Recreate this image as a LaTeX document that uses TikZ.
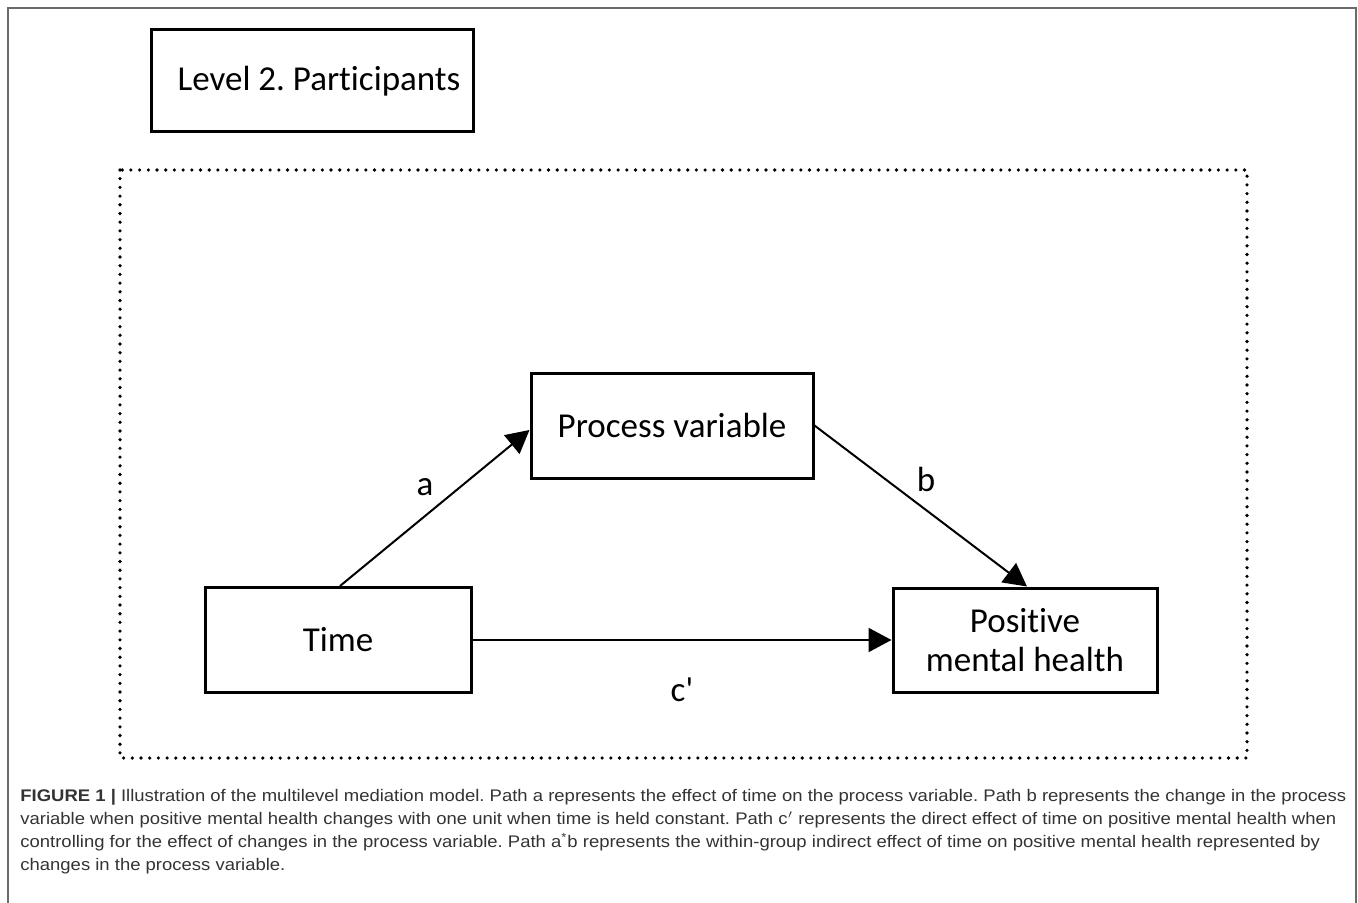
\documentclass[tikz,border=0pt]{standalone}
\usepackage{fontspec}
\setmainfont[Ligatures={TeX,NoCommon}]{Carlito}
\newfontfamily\capfont[FakeStretch=1.10]{Liberation Sans}
\usetikzlibrary{arrows.meta,calc}
\definecolor{framegray}{HTML}{6A6A6A}
\definecolor{captext}{HTML}{333333}
\tikzset{
  box/.style={draw=black, line width=1.5pt, inner sep=0pt, align=center, font=\fontsize{17.5}{20}\selectfont},
  conn/.style={line width=1pt, -{Triangle[length=11.5pt,width=12pt]}},
  lbl/.style={font=\fontsize{17.5}{20}\selectfont, inner sep=0pt},
  dotline/.style={line width=1.8pt, line cap=round, dash pattern=on 0pt off 4.35pt},
}
\begin{document}
\frenchspacing
\begin{tikzpicture}[x=0.5pt,y=-0.5pt]
\useasboundingbox (0,0) rectangle (1358,903);
% outer frame
\draw[framegray, line width=1pt] (7.5,920) -- (7.5,8.5) -- (1356,8.5) -- (1356,920);
% level box
\node[box, minimum width=161pt, minimum height=51pt] (lev) at (312,81) {\hspace*{7pt}Level 2. Participants};
% dotted group
\coordinate (g1) at (120,170);
\coordinate (g2) at (1247,758);
\draw[dotline] (g1) rectangle (g2);
% nodes
\node[box, minimum width=141pt, minimum height=52.5pt] (proc) at (672,425.5) {Process variable};
\node[box, minimum width=133pt, minimum height=52.5pt] (time) at (338,640) {Time};
\node[box, minimum width=132pt, minimum height=52pt] (pmh) at (1025,640) {Positive\\[-0.5pt]mental health};
% connectors
\draw[conn] ([xshift=1pt]time.north) -- ([yshift=-2.25pt]proc.west);
\draw[conn] (proc.east) -- ([xshift=1pt]pmh.north);
\draw[conn] (time.east) -- (pmh.west);
% labels
\node[lbl] (la) at (425,487) {a};
\node[lbl] (lb) at (926,479) {b};
\node[lbl] (lc) at (682,690) {c\textquotesingle};
% caption
\node[anchor=north west, inner sep=0pt, align=left, text=captext,
      font=\capfont\fontsize{8.4}{11.5}\selectfont] (cap) at (20,789)
{\textbf{FIGURE 1 |} Illustration of the multilevel mediation model. Path a represents the effect of time on the process variable. Path b represents the change in the process\\
variable when positive mental health changes with one unit when time is held constant. Path c$'$ represents the direct effect of time on positive mental health when\\
controlling for the effect of changes in the process variable. Path a\textsuperscript{*}b represents the within-group indirect effect of time on positive mental health represented by\\
changes in the process variable.};
\end{tikzpicture}
\end{document}
